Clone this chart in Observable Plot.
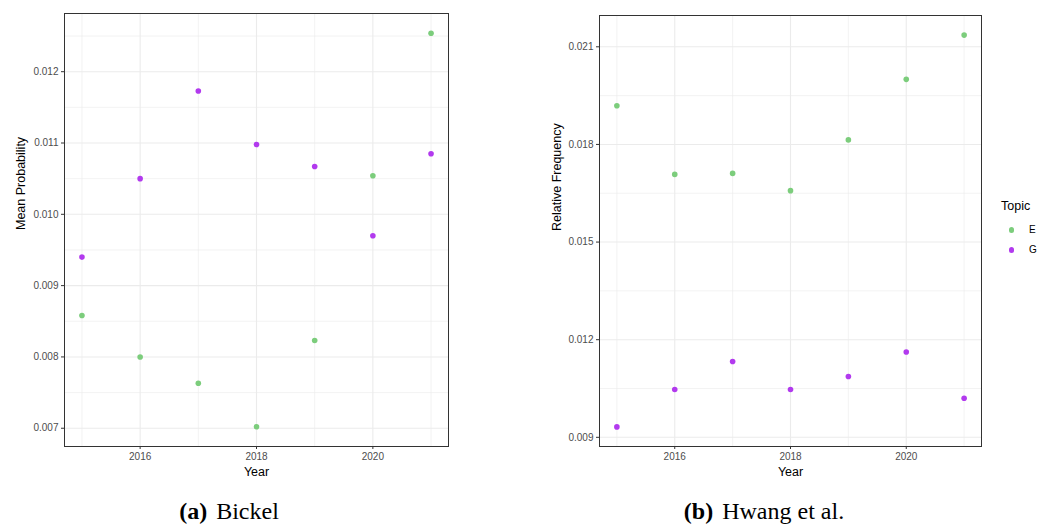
<!DOCTYPE html>
<html><head><meta charset="utf-8">
<script src="https://cdn.jsdelivr.net/npm/d3@7"></script>
<script src="https://cdn.jsdelivr.net/npm/@observablehq/plot@0.6"></script>
<style>
html,body{margin:0;padding:0;background:#fff;}
#wrap{position:relative;width:1049px;height:529px;overflow:hidden;font-family:"Liberation Sans",Arial,sans-serif;}
#wrap > svg, #wrap > .panel{position:absolute;top:0;}
.cap{position:absolute;font-family:"Liberation Serif","Times New Roman",serif;font-size:24px;line-height:24px;color:#000;white-space:nowrap;transform:translateX(-50%);}
.cap b{margin-right:9px;}
.lg{position:absolute;white-space:nowrap;color:#000;}
.dotk{position:absolute;width:5.6px;height:5.6px;border-radius:50%;}
</style></head><body><div id="wrap"></div>
<script>
// ---- data ----
const years = [2015, 2016, 2017, 2018, 2019, 2020, 2021];
const topics = ["E", "G"];
const topicColors = ["#7CCD7C", "#B23AEE"];

const bickelE = [0.00858, 0.00800, 0.00763, 0.00702, 0.00823, 0.01054, 0.01254];
const bickelG = [0.00940, 0.01050, 0.01173, 0.01098, 0.01067, 0.00970, 0.01085];
const hwangE  = [0.01919, 0.01708, 0.01711, 0.01658, 0.01814, 0.02000, 0.02136];
const hwangG  = [0.00932, 0.01047, 0.01133, 0.01047, 0.01087, 0.01162, 0.01020];

const xMajor = [2016, 2018, 2020];
const xMinor = [2015, 2017, 2019, 2021];
const bickelYTicks = [0.007, 0.008, 0.009, 0.010, 0.011, 0.012];
const bickelYMinor = [0.0075, 0.0085, 0.0095, 0.0105, 0.0115, 0.0125];
const hwangYTicks = [0.009, 0.012, 0.015, 0.018, 0.021];
const hwangYMinor = [0.0105, 0.0135, 0.0165, 0.0195];

const yLabels = ["Mean Probability", "Relative Frequency"];
const xLabel = "Year";
const captions = [["(a)", "Bickel"], ["(b)", "Hwang et al."]];
const legendTitle = "Topic";

// ---- drawing ----
const wrap = document.getElementById("wrap");
const H = 490;

function panel(o) {
  const data = years.flatMap((yr, i) => [
    {year: yr, topic: topics[0], v: o.E[i]},
    {year: yr, topic: topics[1], v: o.G[i]}
  ]);
  const [lo, hi] = d3.extent(o.E.concat(o.G));
  const pad = (hi - lo) * 0.05;
  const [xlo, xhi] = d3.extent(years);
  const xpad = (xhi - xlo) * 0.05;
  const gridMinor = {stroke: "#EBEBEB", strokeOpacity: 1, strokeWidth: 0.6};
  const gridMajor = {stroke: "#EBEBEB", strokeOpacity: 1, strokeWidth: 1.1};
  const svg = Plot.plot({
    width: o.width, height: H,
    marginLeft: o.ml, marginRight: o.width - o.fr, marginTop: o.mt, marginBottom: H - 446,
    style: {fontFamily: '"Liberation Sans", Arial, sans-serif', background: "transparent", color: "#333"},
    x: {domain: [xlo - xpad, xhi + xpad]},
    y: {domain: [lo - pad, hi + pad]},
    color: {domain: topics, range: topicColors},
    marks: [
      Plot.gridX(xMinor, gridMinor),
      Plot.gridY(o.yMinor, gridMinor),
      Plot.gridX(xMajor, gridMajor),
      Plot.gridY(o.yTicks, gridMajor),
      Plot.dot(data, {x: "year", y: "v", fill: "topic", r: 2.8}),
      Plot.frame({stroke: "#333", strokeWidth: 1}),
      Plot.axisX(xMajor, {tickSize: 3, tickPadding: 3, fontSize: 10, fill: "#4D4D4D", stroke: "#333", tickFormat: d => String(d), label: null}),
      Plot.axisY(o.yTicks, {tickSize: 3, tickPadding: 3, fontSize: 10, fill: "#4D4D4D", stroke: "#333", tickFormat: d3.format(".3f"), label: null}),
      Plot.text([xLabel], {frameAnchor: "bottom", lineAnchor: "bottom", dy: 29, fontSize: 12.5, fill: "#000", text: d => d}),
      Plot.text([o.yLabel], {frameAnchor: "left", dx: o.ydx, rotate: -90, fontSize: 12.5, fill: "#000", text: d => d})
    ]
  });
  svg.style.position = "absolute";
  svg.style.left = o.left + "px";
  svg.style.top = "0px";
  wrap.appendChild(svg);
}

panel({E: bickelE, G: bickelG, yTicks: bickelYTicks, yMinor: bickelYMinor, yLabel: yLabels[0],
       left: 0, width: 530, ml: 64, fr: 448, mt: 13, ydx: -44});
panel({E: hwangE, G: hwangG, yTicks: hwangYTicks, yMinor: hwangYMinor, yLabel: yLabels[1],
       left: 530, width: 519, ml: 69, fr: 451, mt: 15, ydx: -43});

// captions
const capX = [229, 764];
captions.forEach((c, i) => {
  const d = document.createElement("div");
  d.className = "cap";
  d.style.left = capX[i] + "px";
  d.style.top = "499px";
  d.innerHTML = `<b>${c[0]}</b>${c[1]}`;
  wrap.appendChild(d);
});

// legend
const lt = document.createElement("div");
lt.className = "lg";
lt.style.cssText += "left:1001px;top:200px;font-size:12.5px;line-height:12.5px;";
lt.textContent = legendTitle;
wrap.appendChild(lt);
topics.forEach((t, i) => {
  const cy = 230 + i * 20;
  const dot = document.createElement("div");
  dot.className = "dotk";
  dot.style.left = (1011.5 - 2.8) + "px";
  dot.style.top = (cy - 2.8) + "px";
  dot.style.background = topicColors[i];
  wrap.appendChild(dot);
  const tx = document.createElement("div");
  tx.className = "lg";
  tx.style.cssText += `left:1029px;top:${cy - 5}px;font-size:10px;line-height:10px;`;
  tx.textContent = t;
  wrap.appendChild(tx);
});
</script></body></html>
